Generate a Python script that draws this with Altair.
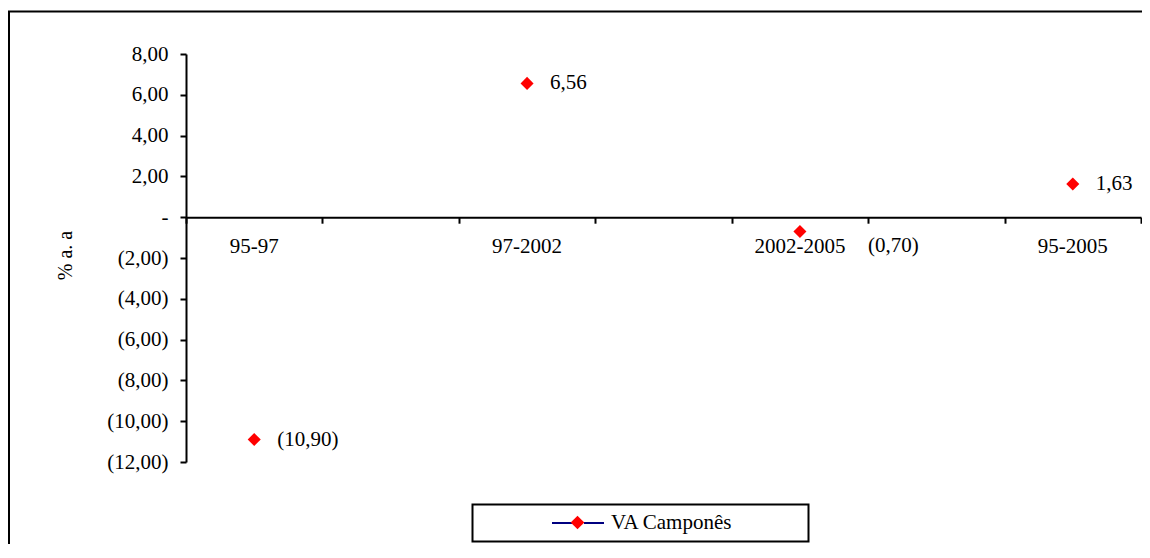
import altair as alt
import pandas as pd

# ---- data ----
categorias = ["95-97", "97-2002", "2002-2005", "95-2005"]
va_campones = [-10.90, 6.56, -0.70, 1.63]
serie_nome = "VA Camponês"
y_ticks = [-12, -10, -8, -6, -4, -2, 0, 2, 4, 6, 8]
x_ticks = [0, 1, 2, 3, 4, 5, 6, 7]

df = pd.DataFrame({"categoria": categorias, "valor": va_campones})
one = pd.DataFrame({"k": [0]})

FONT = "Liberation Serif"
NB = "\u00a0"

xs = alt.Scale(domain=[0, 7], nice=False, zero=False)
ys = alt.Scale(domain=[-12, 8], nice=False, zero=False)

fmt = "replace(format({v}, '.2f'), '.', ',')"
y_label_expr = (
    "datum.value == 0 ? '-" + NB * 6 + "' : (datum.value < 0 ? '(' + "
    + fmt.format(v="-datum.value") + " + ')' : " + fmt.format(v="datum.value") + " + '" + NB + "')"
)
rotulo_expr = (
    "datum.valor < 0 ? '(' + " + fmt.format(v="-datum.valor") + " + ')' : " + fmt.format(v="datum.valor")
)

x_axis = alt.Axis(
    values=x_ticks, labels=False, tickSize=6, tickWidth=2, tickColor="black",
    domainColor="black", domainWidth=2, grid=False, offset=-244.8, title=None,
)
y_axis = alt.Axis(
    values=y_ticks, labelExpr=y_label_expr, labelFont=FONT, labelFontSize=21,
    labelColor="black", labelPadding=12, tickSize=6, tickWidth=2, tickColor="black",
    domainColor="black", domainWidth=2, grid=False,
    title="% a. a", titleFont=FONT, titleFontSize=20, titleFontWeight="normal",
    titleColor="black", titleAngle=270, titleX=-114.5, titleY=201,
    titleAlign="center", titleBaseline="alphabetic",
)

base = alt.Chart(df).transform_window(ordem="row_number()").transform_calculate(
    pos="2 * (datum.ordem - 1) + 0.5",
    serie="'" + serie_nome + "'",
    rotulo=rotulo_expr,
)

# decorative frames
moldura = alt.Chart(one).mark_rect(fill="transparent", stroke="black", strokeWidth=2).encode(
    x=alt.value(-177), x2=alt.value(1200), y=alt.value(-42.5), y2=alt.value(700)
)
caixa_legenda = alt.Chart(one).mark_rect(fill="white", stroke="black", strokeWidth=2).encode(
    x=alt.value(286.5), x2=alt.value(622.5), y=alt.value(450.5), y2=alt.value(487.5)
)

diamond_path = "M0,-0.68L0.68,0L0,0.68L-0.68,0Z"
line_path = "M-2.6,0L-0.6,0M0.6,0L2.6,0"

X = alt.X("pos:Q", scale=xs, axis=x_axis)
Y = alt.Y("valor:Q", scale=ys, axis=y_axis)

pontos = base.mark_point(shape="diamond", filled=True, size=170, opacity=1).encode(
    x=X,
    y=Y,
    fill=alt.Fill(
        "serie:N",
        scale=alt.Scale(domain=[serie_nome], range=["#ff0000"]),
        legend=alt.Legend(
            orient="none", legendX=381, legendY=458, title=None, symbolType=diamond_path,
            symbolSize=400, symbolStrokeWidth=0, labelFont=FONT, labelFontSize=21,
            labelColor="black", labelOffset=23, padding=0,
        ),
    ),
)

linha_legenda = base.transform_calculate(serie_linha="'linha'").transform_filter("false").mark_line().encode(
    x=X,
    y=Y,
    stroke=alt.Stroke(
        "serie_linha:N",
        scale=alt.Scale(domain=["linha"], range=["#000080"]),
        legend=alt.Legend(
            orient="none", legendX=381, legendY=458, title=None, symbolType=line_path,
            symbolSize=400, symbolStrokeWidth=2, labelExpr="''", labelFont=FONT,
            labelFontSize=21, labelOffset=23, padding=0,
        ),
    ),
)

rotulos = base.transform_filter("abs(datum.valor) >= 1").mark_text(
    font=FONT, fontSize=21, align="left", baseline="middle", dx=23, color="black"
).encode(x=X, y=Y, text="rotulo:N")

rotulo_perto = base.transform_filter("abs(datum.valor) < 1").mark_text(
    font=FONT, fontSize=21, align="left", baseline="middle", dx=68, dy=15, color="black"
).encode(x=X, y=Y, text="rotulo:N")

cat_txt = base.mark_text(
    font=FONT, fontSize=21, align="center", baseline="middle", dy=30, color="black"
).encode(x=X, y=alt.Y(datum=0, scale=ys, axis=y_axis), text="categoria:N")

chart = alt.layer(
    moldura, caixa_legenda, linha_legenda, pontos, rotulos, rotulo_perto, cat_txt
).properties(
    width=955,
    height=408,
    autosize=alt.AutoSizeParams(type="none"),
    padding={"left": 178, "top": 46, "right": 1, "bottom": 82},
).configure_view(stroke="transparent")

chart.save("out.html", embed_options={"renderer": "svg", "actions": False})
